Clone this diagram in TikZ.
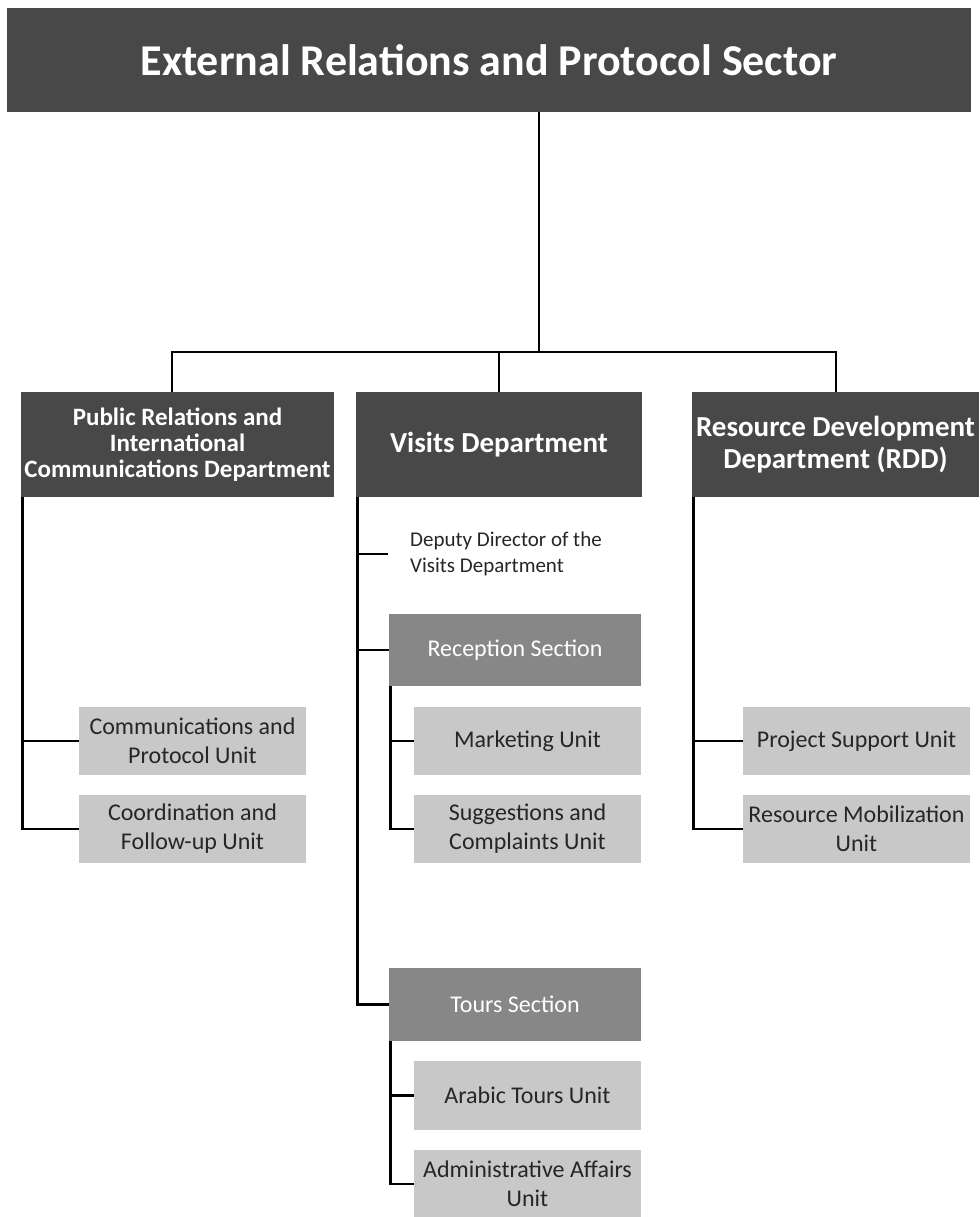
\documentclass[tikz,border=0pt]{standalone}
\usepackage{fontspec}
\setmainfont{Carlito}
\definecolor{darkbox}{HTML}{484848}
\definecolor{midbox}{HTML}{878787}
\definecolor{lightbox}{HTML}{C8C8C8}
\begin{document}
\begin{tikzpicture}[x=1pt, y=-1pt,
    hd/.style={fill=darkbox, text=white, font=\fontsize{44}{50}\selectfont\bfseries, minimum width=964pt, minimum height=104pt, inner sep=0pt},
    dpt/.style={fill=darkbox, text=white, font=\fontsize{25}{26}\selectfont\bfseries, align=center, minimum height=105pt, inner sep=0pt},
    sec/.style={fill=midbox, text=white, font=\fontsize{24}{26}\selectfont, minimum width=252pt, minimum height=72pt, inner sep=0pt},
    unt/.style={fill=lightbox, text=black!85, font=\fontsize{24}{29}\selectfont, align=center, minimum width=227pt, minimum height=68pt, inner sep=0pt},
    ln/.style={line width=2.5pt}
]
\useasboundingbox (0,0) rectangle (979,1217);

\node[hd] (sector) at (489,60) {External Relations and Protocol Sector};

\node[dpt, minimum width=313pt] (prd) at (177.5,444.5) {Public Relations and\\International\\Communications Department};
\node[dpt, minimum width=286pt, font=\fontsize{29}{32}\selectfont\bfseries] (visits) at (499,444.5) {Visits Department};
\node[dpt, minimum width=287pt, font=\fontsize{29}{32}\selectfont\bfseries] (rdd) at (835.5,444.5) {Resource Development\\Department (RDD)};

% public relations units
\node[unt] (comm) at (192.5,741) {Communications and\\Protocol Unit};
\node[unt] (coord) at (192.5,829) {Coordination and\\Follow-up Unit};

% visits
\node[anchor=west, align=left, inner xsep=22pt, inner ysep=0pt, font=\fontsize{21}{26}\selectfont, text=black!85] (dep) at (388,554) {Deputy Director of the\\Visits Department};
\node[sec] (recep) at (515,650) {Reception Section};
\node[unt] (mkt) at (527.5,741) {Marketing Unit};
\node[unt] (sugg) at (527.5,829) {Suggestions and\\Complaints Unit};
\node[sec, minimum height=73pt] (tours) at (515,1004.5) {Tours Section};
\node[unt, minimum height=69pt] (arab) at (527.5,1095.5) {Arabic Tours Unit};
\node[unt] (admin) at (527.5,1184) {Administrative Affairs\\Unit};

% resource development units
\node[unt] (proj) at (856.5,741) {Project Support Unit};
\node[unt] (mob) at (856.5,829) {Resource Mobilization\\Unit};

% top bus
\coordinate (bus) at (539,352);
\coordinate (busL) at (172,352);
\coordinate (busR) at (836,352);
\draw[ln] (sector.south -| bus) -- (bus);
\draw[ln] (prd.north -| busL) -- (busL) -- (busR) -- (rdd.north -| busR);
\draw[ln] (visits.north) -- (visits.north |- bus);

% spines
\draw[ln] ([xshift=1.5pt]prd.south west) |- (coord.west);
\draw[ln] ([xshift=1.5pt]prd.south west) |- (comm.west);
\draw[ln] ([xshift=1.5pt]visits.south west) |- (tours.west);
\draw[ln] ([xshift=1.5pt]visits.south west) |- (recep.west);
\draw[ln] ([xshift=1.5pt]visits.south west) |- (dep.west);
\draw[ln] ([xshift=1.5pt]recep.south west) |- (sugg.west);
\draw[ln] ([xshift=1.5pt]recep.south west) |- (mkt.west);
\draw[ln] ([xshift=1.5pt]tours.south west) |- (admin.west);
\draw[ln] ([xshift=1.5pt]tours.south west) |- (arab.west);
\draw[ln] ([xshift=1.5pt]rdd.south west) |- (mob.west);
\draw[ln] ([xshift=1.5pt]rdd.south west) |- (proj.west);
\end{tikzpicture}
\end{document}
